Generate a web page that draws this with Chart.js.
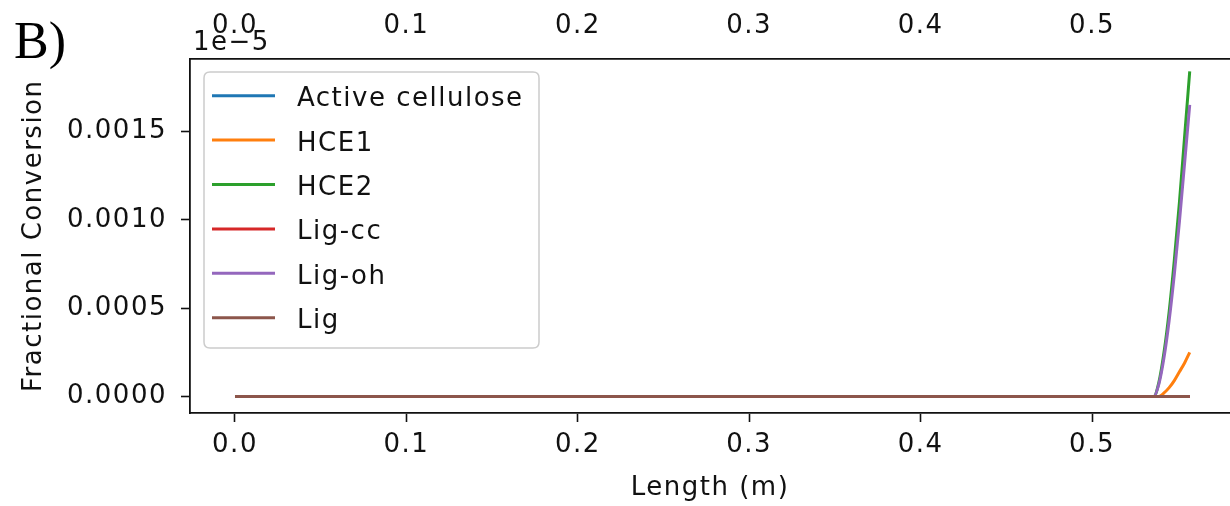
<!DOCTYPE html>
<html>
<head>
<meta charset="utf-8">
<script src="https://cdn.jsdelivr.net/npm/chart.js@4.4.1/dist/chart.umd.min.js"></script>
<style>
  html, body { margin: 0; padding: 0; background: #ffffff; overflow: hidden; }
  #wrap { width: 1230px; height: 506px; }
</style>
</head>
<body>
<div id="wrap"><canvas id="c" width="1230" height="506"></canvas></div>
<script>
// ---- data ----
const lengthM = [0, 0.1, 0.2, 0.3, 0.4, 0.5, 0.53, 0.536, 0.539, 0.542, 0.545, 0.548, 0.551, 0.554, 0.557];
const activeCellulose = [0, 0, 0, 0, 0, 0, 0, 0, 0, 0, 0, 0, 0, 0, 0];
const hce1 = [0, 0, 0, 0, 0, 0, 0, 0, 0, 0.00002, 0.00005, 0.00009, 0.00014, 0.00019, 0.00025];
const hce2 = [0, 0, 0, 0, 0, 0, 0, 0, 0.00008, 0.00025, 0.00048, 0.00077, 0.00110, 0.00147, 0.00184];
const ligCc = [0, 0, 0, 0, 0, 0, 0, 0, 0, 0, 0, 0, 0, 0, 0];
const ligOh = [0, 0, 0, 0, 0, 0, 0, 0, 0.00007, 0.00022, 0.00043, 0.00069, 0.00099, 0.00132, 0.00165];
const lig = [0, 0, 0, 0, 0, 0, 0, 0, 0, 0, 0, 0, 0, 0, 0];

const seriesNames = ['Active cellulose', 'HCE1', 'HCE2', 'Lig-cc', 'Lig-oh', 'Lig'];
const seriesValues = [activeCellulose, hce1, hce2, ligCc, ligOh, lig];
const seriesColors = ['#1f77b4', '#ff7f0e', '#2ca02c', '#d62728', '#9467bd', '#8c564b'];

const xTicks = [0, 0.1, 0.2, 0.3, 0.4, 0.5];
const yTicks = [0, 0.0005, 0.0010, 0.0015];

const panelLabel = 'B)';
const offsetLabel = '1e\u22125';
const xTitle = 'Length (m)';
const yTitle = 'Fractional Conversion';

// ---- chart ----
const FONT = 'DejaVu Sans';
const TXT = '#111111';
const SPACING = '1.5px';

const datasets = seriesNames.map((name, i) => ({
  label: name,
  data: lengthM.map((x, j) => ({ x: x, y: seriesValues[i][j] })),
  borderColor: seriesColors[i],
  backgroundColor: seriesColors[i],
  borderWidth: 3,
  pointRadius: 0,
  fill: false,
  cubicInterpolationMode: 'monotone',
  order: seriesNames.length - i
}));

const extrasPlugin = {
  id: 'extras',
  beforeUpdate(chart) { chart.ctx.letterSpacing = SPACING; },
  beforeDraw(chart) { chart.ctx.letterSpacing = SPACING; },
  afterDraw(chart) {
    const ctx = chart.ctx;
    const ca = chart.chartArea;
    ctx.save();
    // panel label
    ctx.letterSpacing = '0px';
    ctx.fillStyle = '#000';
    ctx.font = '52px "Liberation Serif", "Times New Roman", serif';
    ctx.textAlign = 'left';
    ctx.textBaseline = 'alphabetic';
    ctx.fillText(panelLabel, 14, 58);
    // offset text
    ctx.letterSpacing = SPACING;
    ctx.fillStyle = TXT;
    ctx.font = '26px "' + FONT + '"';
    ctx.fillText(offsetLabel, ca.left + 3, 50);

    // legend box
    const bx = 204, by = 72, bw = 335, bh = 276, r = 6;
    ctx.beginPath();
    ctx.moveTo(bx + r, by);
    ctx.lineTo(bx + bw - r, by);
    ctx.quadraticCurveTo(bx + bw, by, bx + bw, by + r);
    ctx.lineTo(bx + bw, by + bh - r);
    ctx.quadraticCurveTo(bx + bw, by + bh, bx + bw - r, by + bh);
    ctx.lineTo(bx + r, by + bh);
    ctx.quadraticCurveTo(bx, by + bh, bx, by + bh - r);
    ctx.lineTo(bx, by + r);
    ctx.quadraticCurveTo(bx, by, bx + r, by);
    ctx.closePath();
    ctx.fillStyle = 'rgba(255,255,255,0.85)';
    ctx.fill();
    ctx.strokeStyle = '#cccccc';
    ctx.lineWidth = 1.5;
    ctx.stroke();

    chart.data.datasets.forEach((ds, i) => {
      const yc = 95.7 + i * 44.4;
      ctx.beginPath();
      ctx.moveTo(212, yc);
      ctx.lineTo(275, yc);
      ctx.strokeStyle = ds.borderColor;
      ctx.lineWidth = 3;
      ctx.stroke();
      ctx.fillStyle = TXT;
      ctx.font = '26px "' + FONT + '"';
      ctx.textAlign = 'left';
      ctx.textBaseline = 'alphabetic';
      ctx.fillText(ds.label, 297, yc + 10.5);
    });
    ctx.restore();
  }
};

const xMin = -0.02625, xMax = 0.5805;
const yMin = -0.0000934, yMax = 0.001913;

new Chart(document.getElementById('c'), {
  type: 'line',
  data: { datasets: datasets },
  options: {
    responsive: false,
    animation: false,
    devicePixelRatio: 1,
    layout: { padding: 0 },
    plugins: { legend: { display: false }, tooltip: { enabled: false } },
    scales: {
      x: {
        type: 'linear',
        position: 'bottom',
        min: xMin, max: xMax,
        afterBuildTicks: (s) => { s.ticks = xTicks.map(v => ({ value: v })); },
        afterFit: (s) => { s.height = 93; },
        ticks: {
          font: { family: FONT, size: 26 }, color: TXT, padding: 8,
          maxRotation: 0, autoSkip: false,
          callback: (v) => v.toFixed(1)
        },
        grid: { drawOnChartArea: false, drawTicks: true, tickLength: 9, tickWidth: 1.6, tickColor: '#111' },
        border: { display: true, color: '#111', width: 1.8 },
        title: { display: true, text: xTitle, font: { family: FONT, size: 26 }, color: TXT, padding: { top: 0, bottom: 2 } }
      },
      x2: {
        type: 'linear',
        position: 'top',
        min: xMin, max: xMax,
        afterBuildTicks: (s) => { s.ticks = xTicks.map(v => ({ value: v })); },
        afterFit: (s) => { s.height = 58.5; },
        ticks: {
          font: { family: FONT, size: 26 }, color: TXT, padding: 17,
          maxRotation: 0, autoSkip: false,
          callback: (v) => v.toFixed(1)
        },
        grid: { drawOnChartArea: false, drawTicks: false },
        border: { display: true, color: '#111', width: 1.8 }
      },
      y: {
        type: 'linear',
        position: 'left',
        min: yMin, max: yMax,
        afterBuildTicks: (s) => { s.ticks = yTicks.map(v => ({ value: v })); },
        afterFit: (s) => { s.width = 190; },
        ticks: {
          font: { family: FONT, size: 26 }, color: TXT, padding: 14,
          autoSkip: false,
          callback: (v) => v.toFixed(4)
        },
        grid: { drawOnChartArea: false, drawTicks: true, tickLength: 9, tickWidth: 1.6, tickColor: '#111' },
        border: { display: true, color: '#111', width: 1.8 },
        title: { display: true, text: yTitle, font: { family: FONT, size: 26 }, color: TXT, padding: { top: 19, bottom: 0 } }
      }
    }
  },
  plugins: [extrasPlugin]
});
</script>
</body>
</html>
